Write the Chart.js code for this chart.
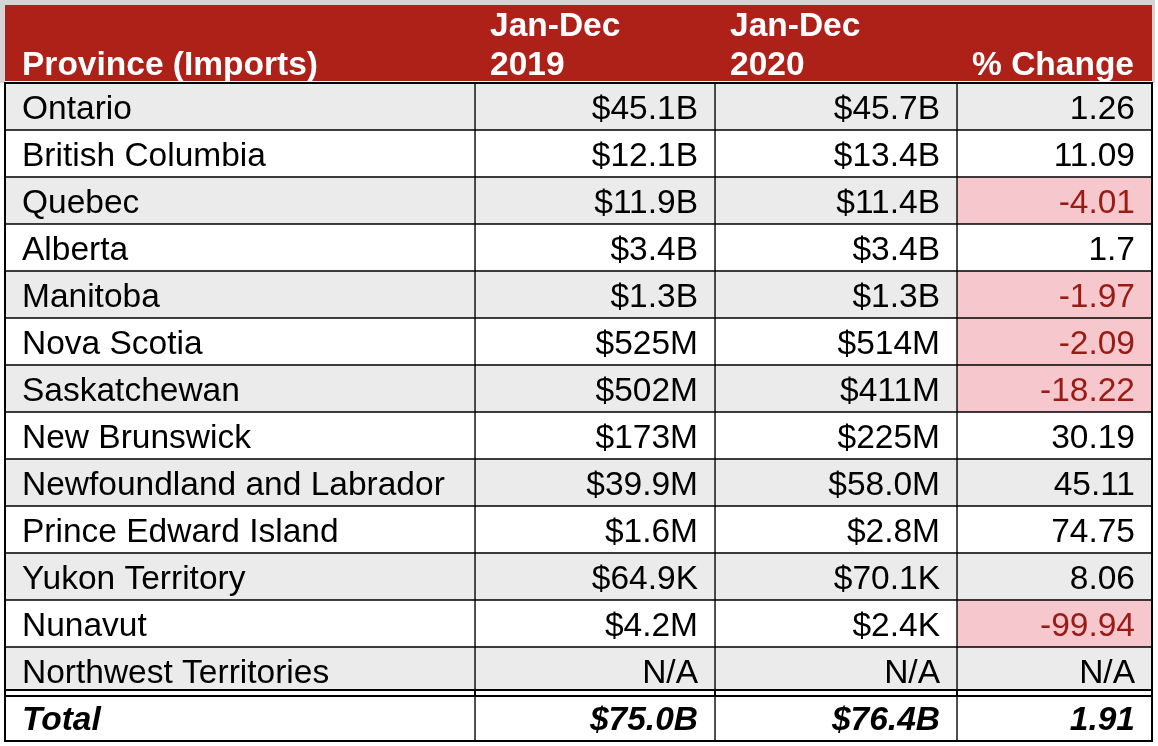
<!DOCTYPE html>
<html>
<head>
<meta charset="utf-8">
<title>Province imports 2019 vs 2020</title>
<script src="https://cdn.jsdelivr.net/npm/chart.js@4.4.1/dist/chart.umd.min.js"></script>
<style>
  html, body { margin: 0; padding: 0; background: #fff; }
  #wrap { width: 1158px; height: 746px; position: relative; }
</style>
</head>
<body>
<div id="wrap"><canvas id="tableChart"></canvas></div>
<script>
// --- table data ---
const provinces = ["Ontario", "British Columbia", "Quebec", "Alberta", "Manitoba", "Nova Scotia",
    "Saskatchewan", "New Brunswick", "Newfoundland and Labrador", "Prince Edward Island",
    "Yukon Territory", "Nunavut", "Northwest Territories"];
const imports2019 = ["$45.1B", "$12.1B", "$11.9B", "$3.4B", "$1.3B", "$525M", "$502M", "$173M",
    "$39.9M", "$1.6M", "$64.9K", "$4.2M", "N/A"];
const imports2020 = ["$45.7B", "$13.4B", "$11.4B", "$3.4B", "$1.3B", "$514M", "$411M", "$225M",
    "$58.0M", "$2.8M", "$70.1K", "$2.4K", "N/A"];
const pctChange = [1.26, 11.09, -4.01, 1.7, -1.97, -2.09, -18.22, 30.19, 45.11, 74.75, 8.06, -99.94, null];
const totalRow = ["Total", "$75.0B", "$76.4B", 1.91];
const headers = [["Province (Imports)"], ["Jan-Dec", "2019"], ["Jan-Dec", "2020"], ["% Change"]];

// --- layout / style ---
const colWidths = [470, 240, 242, 195];
const colEdges = [0];
colWidths.forEach(w => colEdges.push(colEdges[colEdges.length - 1] + w));
const RED = '#ae2118';
const GRAY = '#ebebeb';
const PINK = '#f6c8cd';
const NEG_TEXT = '#981b14';
const FONT = '"Liberation Sans", Arial, Helvetica, sans-serif';

const rowLabels = [...provinces, totalRow[0]];
const lastRow = rowLabels.length - 1;

function fmtPct(v) {
    return v === null ? 'N/A' : String(v);
}

function cellText(c, i) {
    if (i === lastRow) return c === 3 ? fmtPct(totalRow[3]) : totalRow[c];
    if (c === 0) return provinces[i];
    if (c === 1) return imports2019[i];
    if (c === 2) return imports2020[i];
    return fmtPct(pctChange[i]);
}

function cellFill(c, i) {
    if (i === lastRow) return '#ffffff';
    if (c === 3 && pctChange[i] !== null && pctChange[i] < 0) return PINK;
    return i % 2 === 0 ? GRAY : '#ffffff';
}

const datasets = colWidths.map((w, c) => ({
    label: 'col' + c,
    data: rowLabels.map(() => [colEdges[c], colEdges[c + 1]]),
    backgroundColor: rowLabels.map((_, i) => cellFill(c, i)),
    borderColor: '#000',
    borderWidth: 1,
    borderSkipped: false,
    barPercentage: 1,
    categoryPercentage: 1
}));

// draws header band, cell texts and the heavier rules
const tablePlugin = {
    id: 'tablePlugin',
    beforeDatasetsDraw(chart) {
        const ctx = chart.ctx;
        const area = chart.chartArea;
        const xs = chart.scales.x;
        ctx.save();
        // light frame round the header
        ctx.fillStyle = '#d4d4d4';
        ctx.fillRect(0, 0, area.right + 3, 5);
        ctx.fillRect(0, 0, area.left, area.top);
        ctx.fillRect(area.right, 0, 3, area.top);
        ctx.fillStyle = RED;
        ctx.fillRect(area.left, 5, area.right - area.left, area.top - 7);

        ctx.fillStyle = '#fff';
        ctx.font = 'bold 33.5px ' + FONT;
        ctx.textBaseline = 'alphabetic';
        headers.forEach((lines, c) => {
            const x0 = xs.getPixelForValue(colEdges[c]);
            const x1 = xs.getPixelForValue(colEdges[c + 1]);
            lines.forEach((txt, k) => {
                const y = area.top - 8 - (lines.length - 1 - k) * 39;
                if (c === 3) {
                    ctx.textAlign = 'right';
                    ctx.fillText(txt, x1 - 18, y);
                } else {
                    ctx.textAlign = 'left';
                    ctx.fillText(txt, x0 + (c === 0 ? 17 : 15), y);
                }
            });
        });
        ctx.restore();
    },
    afterDatasetsDraw(chart) {
        const ctx = chart.ctx;
        const area = chart.chartArea;
        ctx.save();

        // double rule above the total row
        const nw = chart.getDatasetMeta(0).data[lastRow - 1];
        const b = nw.y + nw.height / 2;
        ctx.fillStyle = '#fff';
        ctx.fillRect(area.left, b - 3, area.right - area.left, 5);
        ctx.fillStyle = '#000';
        ctx.fillRect(area.left, b - 5, area.right - area.left, 2);
        ctx.fillRect(area.left, b + 1, area.right - area.left, 2);
        colEdges.slice(1, -1).forEach(v => {
            const x = chart.scales.x.getPixelForValue(v);
            ctx.fillRect(x - 1, b - 5, 2, 8);
        });

        // outer frame of the body
        ctx.strokeStyle = '#000';
        ctx.lineWidth = 2;
        ctx.strokeRect(area.left, area.top, area.right - area.left, area.bottom - area.top);

        // cell texts
        ctx.textBaseline = 'alphabetic';
        chart.data.datasets.forEach((ds, c) => {
            const meta = chart.getDatasetMeta(c);
            meta.data.forEach((el, i) => {
                const p = el.getProps(['x', 'y', 'base'], true);
                const left = Math.min(p.x, p.base);
                const right = Math.max(p.x, p.base);
                const txt = cellText(c, i);
                ctx.font = (i === lastRow ? 'italic bold ' : '') + '33.5px ' + FONT;
                const neg = c === 3 && i !== lastRow && pctChange[i] !== null && pctChange[i] < 0;
                ctx.fillStyle = neg ? NEG_TEXT : '#000';
                if (c === 0) {
                    ctx.textAlign = 'left';
                    ctx.fillText(txt, left + 17, p.y + 12);
                } else {
                    ctx.textAlign = 'right';
                    ctx.fillText(txt, right - 17, p.y + 12);
                }
            });
        });
        ctx.restore();
    }
};

new Chart(document.getElementById('tableChart'), {
    type: 'bar',
    data: { labels: rowLabels, datasets: datasets },
    options: {
        indexAxis: 'y',
        responsive: true,
        maintainAspectRatio: false,
        animation: false,
        events: [],
        layout: { padding: { left: 5, top: 83, right: 6, bottom: 5 } },
        datasets: { bar: { grouped: false } },
        scales: {
            x: { type: 'linear', min: 0, max: colEdges[colEdges.length - 1], display: false },
            y: { type: 'category', display: false, offset: true }
        },
        plugins: { legend: { display: false }, tooltip: { enabled: false } }
    },
    plugins: [tablePlugin]
});
</script>
</body>
</html>
